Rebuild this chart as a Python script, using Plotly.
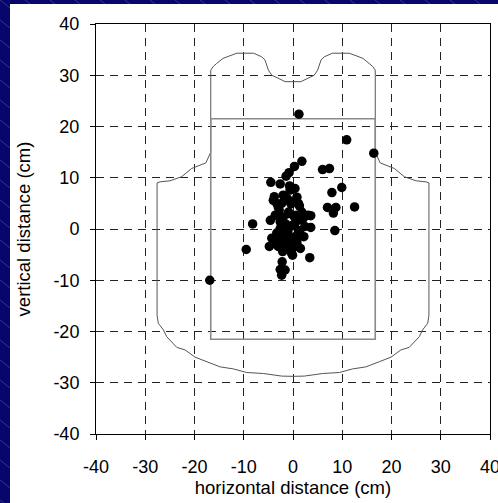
import plotly.graph_objects as go

# ---- data ----
shot_x = [1.2, 10.9, 16.4, 1.8, 0.3, -0.8, -1.4, 6.0, 7.4, -4.5, -2.6, -0.7, 0.4, 9.9, 7.9,
          -3.8, -2.0, -4.0, 0.8, -2.3, -0.4, 1.3, 7.0, 8.7, 12.5, 8.2, -2.8, -0.9, 1.8, -3.6,
          -2.0, 0.2, 3.6, -4.6, -2.6, 1.4, -8.2, 3.6, -2.6, -1.0, 1.1, 8.5, -2.0, 0.4, -4.3,
          -2.6, -0.6, 0.8, -4.8, -3.0, -1.3, 0.4, -9.5, -2.1, -0.1, 3.4, -2.2, -2.6, -1.6, -2.3,
          -16.9, -0.6, -0.6, 1.1, -3.3, 3.1, -1.0, 0.7, 2.1, 0.4, -3.3, -0.6, 0.8, -0.3, -2.0,
          -3.6, 1.4, 2.4, -1.5, 2.2, -1.5, 1.5, 0.0, -3.0, -1.2]
shot_y = [22.4, 17.4, 14.8, 13.2, 12.2, 11.0, 10.3, 11.6, 11.8, 9.1, 8.8, 8.4, 7.9, 8.1, 7.1,
          6.3, 6.6, 5.6, 6.2, 5.0, 4.9, 4.5, 4.2, 4.2, 4.3, 3.1, 3.7, 3.3, 3.3, 2.7,
          2.3, 2.5, 2.6, 1.7, 1.4, 1.8, 1.0, 0.3, 0.1, -0.2, -0.3, -0.3, -1.2, -1.5, -1.8,
          -2.1, -2.5, -2.1, -3.4, -3.4, -3.8, -3.4, -4.0, -4.4, -5.1, -5.6, -6.4, -7.9, -8.0, -9.0,
          -10.0, 7.6, 5.4, 5.0, 5.0, 2.7, 3.0, 2.7, 2.1, 1.1, -0.8, -1.5, -2.8, -4.7, -4.1,
          -2.8, -0.8, 0.5, 1.0, -1.5, -2.9, -3.8, 0.8, 4.3, 6.0]

# vest outline, left half (top centre -> bottom centre); right half is its mirror image
vest_half_x = [0.0, -1.6, -2.95, -4.3, -5.0, -5.7, -6.35, -8.0, -11.4, -12.4, -14.2, -15.5,
               -16.2, -16.7, -16.7, -17.7, -20.6, -22.6, -25.0, -27.0, -27.6, -27.6, -27.35,
               -26.3, -25.65, -23.6, -21.9, -19.9, -17.5, -14.8, -12.1, -9.4, -6.0, -2.3, 0.0]
vest_half_y = [28.75, 28.75, 29.4, 30.0, 31.0, 33.0, 33.6, 34.3, 34.3, 33.95, 33.3, 32.3,
               31.7, 31.0, 15.0, 12.9, 11.8, 10.2, 9.4, 9.2, 9.0, -16.8, -18.4,
               -19.7, -21.0, -23.1, -23.6, -25.0, -25.9, -26.9, -27.3, -28.0, -28.2, -28.7, -28.75]

plate_x = [-16.7, 16.7, 16.7, -16.7, -16.7]
plate_y = [21.5, 21.5, -21.5, -21.5, 21.5]

tick_vals = [-40, -30, -20, -10, 0, 10, 20, 30, 40]
x_title = "horizontal distance (cm)"
y_title = "vertical distance (cm)"

# ---- figure ----
vest_x = vest_half_x + [-v for v in vest_half_x[::-1]]
vest_y = vest_half_y + vest_half_y[::-1]

W, H = 498, 503
ML, MR, MT, MB = 96, 8, 24, 69
PW, PH = W - ML - MR, H - MT - MB
FONT = "Liberation Sans, Arial, sans-serif"


def px(x):
    return (x - ML) / PW


def py(y):
    return (H - MB - y) / PH


shapes = []
# diagonal streak texture on the navy background
for k in range(-30, 40):
    y0 = k * 20
    shapes.append(dict(type="line", xref="paper", yref="paper", layer="below",
                       x0=px(0), y0=py(y0), x1=px(W), y1=py(y0 + W * 0.8),
                       line=dict(color="rgba(110,110,190,0.45)", width=1)))
# white panel
shapes.append(dict(type="rect", xref="paper", yref="paper", layer="below",
                   x0=px(10), y0=py(4), x1=px(W + 5), y1=py(H + 5),
                   fillcolor="white", line=dict(width=0)))

fig = go.Figure()
fig.add_trace(go.Scatter(x=vest_x, y=vest_y, mode="lines",
                         line=dict(color="#555555", width=1), hoverinfo="skip"))
fig.add_trace(go.Scatter(x=plate_x, y=plate_y, mode="lines",
                         line=dict(color="#8a8a8a", width=1.6), hoverinfo="skip"))
fig.add_trace(go.Scatter(x=shot_x, y=shot_y, mode="markers",
                         marker=dict(color="black", size=9.5, line=dict(width=0))))

axis_common = dict(
    range=[-40, 40], tickmode="array", tickvals=tick_vals, ticktext=[str(v) for v in tick_vals],
    showgrid=True, gridcolor="#222222", gridwidth=1, griddash="8px,6px",
    zeroline=False, showline=True, linecolor="black", linewidth=1, mirror=True,
    ticks="outside", ticklen=5, tickcolor="black", automargin=False,
    ticklabeloverflow="allow",
    tickfont=dict(family=FONT, size=18, color="black"),
)

fig.update_layout(
    width=W, height=H, autosize=False,
    margin=dict(l=ML, r=MR, t=MT, b=MB, autoexpand=False),
    paper_bgcolor="#06066b", plot_bgcolor="white",
    showlegend=False, shapes=shapes,
    xaxis=dict(**axis_common, ticklabelstandoff=11,
               title=dict(text=x_title, standoff=4,
                          font=dict(family=FONT, size=18.5, color="black"))),
    yaxis=dict(**axis_common, ticklabelstandoff=7,
               title=dict(text=y_title, standoff=17,
                          font=dict(family=FONT, size=18.5, color="black"))),
)

fig.write_html(
    "out.html",
    config={"displayModeBar": False},
    post_script="document.body.style.margin='0';document.body.style.overflow='hidden';",
)
